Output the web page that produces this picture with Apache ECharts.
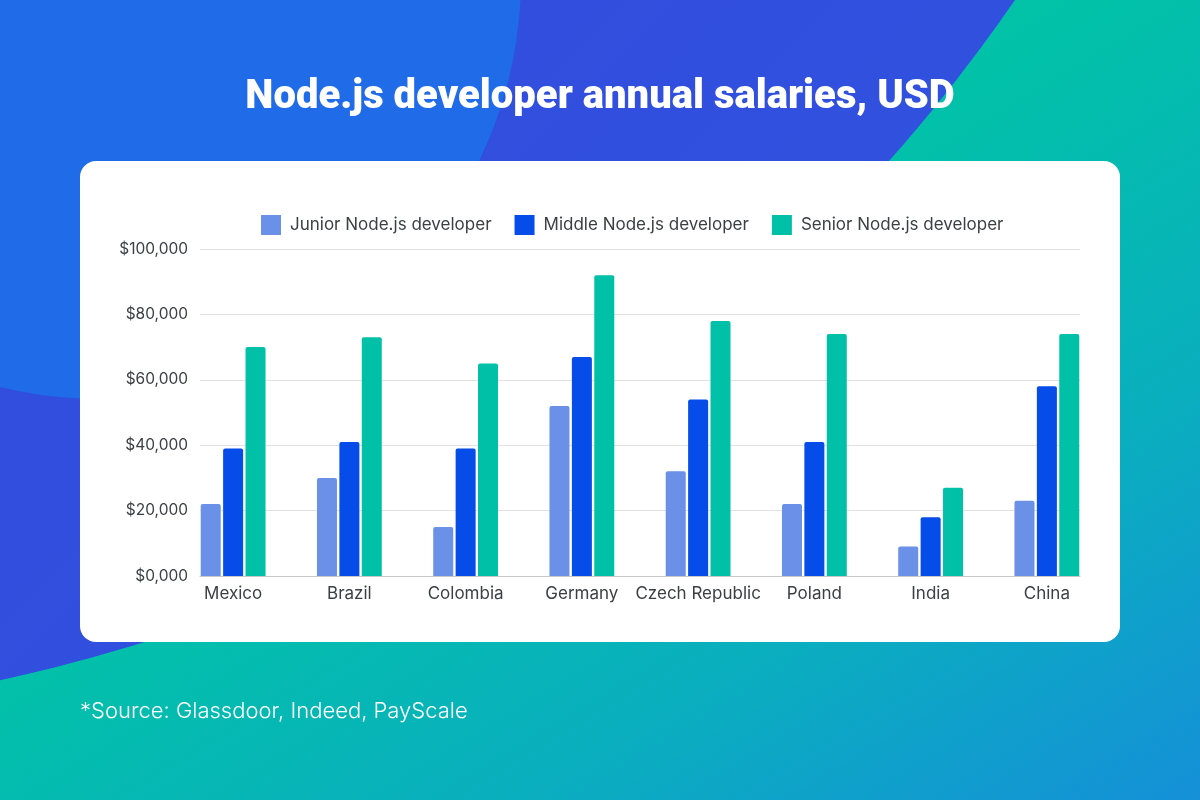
<!DOCTYPE html>
<html>
<head>
<meta charset="utf-8">
<script src="https://cdn.jsdelivr.net/npm/echarts@6/dist/echarts.min.js"></script>
<style>
  html, body { margin: 0; padding: 0; width: 1200px; height: 800px; overflow: hidden; }
  #chart { width: 1200px; height: 800px; }
</style>
</head>
<body>
<div id="chart"></div>
<script>
const categories = ['Mexico', 'Brazil', 'Colombia', 'Germany', 'Czech Republic', 'Poland', 'India', 'China'];
const juniorValues = [22000, 30000, 15000, 52000, 32000, 22000, 9000, 23000];
const middleValues = [39000, 41000, 39000, 67000, 54000, 41000, 18000, 58000];
const seniorValues = [70000, 73000, 65000, 92000, 78000, 74000, 27000, 74000];
const seriesNames = ['Junior Node.js developer', 'Middle Node.js developer', 'Senior Node.js developer'];
const titleText = 'Node.js developer annual salaries, USD';
const sourceText = '*Source: Glassdoor, Indeed, PayScale';
const yMin = 0, yMax = 100000, yStep = 20000;

const colors = ['#6a90e8', '#064ce8', '#00c0a7'];
const labelColor = '#3c4043';
const labelFont = 'Inter';

function fmtMoney(v) {
  let s = String(Math.round(v)).padStart(4, '0');
  s = s.replace(/\B(?=(\d{3})+(?!\d))/g, ',');
  return '$' + s;
}

const chart = echarts.init(document.getElementById('chart'), null, { renderer: 'canvas' });

const option = {
  animation: false,
  title: {
    text: titleText,
    left: 'center',
    top: 73,
    textStyle: { color: '#ffffff', fontSize: 40, fontWeight: 900, fontFamily: 'Roboto' }
  },
  graphic: [
    { type: 'rect', z: -10, silent: true, shape: { x: 0, y: 0, width: 1200, height: 800 },
      style: { fill: new echarts.graphic.LinearGradient(720, 0, 1200, 800, [
        { offset: 0, color: '#00c6a2' }, { offset: 0.25, color: '#02c0aa' },
        { offset: 0.63, color: '#0aaebf' }, { offset: 1, color: '#1590d8' }], true) } },
    { type: 'circle', z: -9, silent: true, shape: { cx: -347, cy: -935, r: 1652 },
      style: { fill: new echarts.graphic.LinearGradient(0, 0, 1, 1, [
        { offset: 0, color: '#3b36d6' }, { offset: 1, color: '#2f55e0' }]) } },
    { type: 'circle', z: -8, silent: true, shape: { cx: 100, cy: -22, r: 421 },
      style: { fill: '#1f6be8' } },
    { type: 'rect', z: -7, silent: true, shape: { x: 80, y: 161, width: 1040, height: 481, r: 16 },
      style: { fill: '#ffffff' } },
    { type: 'text', z: 5, silent: true, left: 80, top: 700,
      style: { text: sourceText, fill: '#ffffff', fontSize: 22, fontWeight: 300, fontFamily: 'Inter' } }
  ],
  legend: {
    data: seriesNames,
    left: 261,
    top: 215,
    padding: 0,
    icon: 'rect',
    itemWidth: 20,
    itemHeight: 20,
    itemGap: 23,
    textStyle: { color: labelColor, fontSize: 17, fontFamily: labelFont, padding: [0, 0, 0, 4] }
  },
  grid: [
    { left: 200, right: 120, top: 249, bottom: 224 },
    { left: 175, right: 95, top: 249, bottom: 224 }
  ],
  xAxis: [
    { type: 'value', gridIndex: 0, min: 0, max: 1,
      axisLine: { show: true, lineStyle: { color: '#c8c8c8', width: 1 } },
      axisTick: { show: false }, axisLabel: { show: false }, splitLine: { show: false } },
    { type: 'category', gridIndex: 1, data: categories,
      axisLine: { show: false }, axisTick: { show: false }, splitLine: { show: false },
      axisLabel: { color: labelColor, fontSize: 17, fontFamily: labelFont, margin: 9, interval: 0 } }
  ],
  yAxis: [
    { type: 'value', gridIndex: 0, min: yMin, max: yMax, interval: yStep,
      axisLine: { show: false }, axisTick: { show: false },
      axisLabel: { color: labelColor, fontSize: 15.5, fontFamily: labelFont, margin: 12, formatter: fmtMoney },
      splitLine: { show: true, lineStyle: { color: '#e2e2e2', width: 1 } } },
    { type: 'value', gridIndex: 1, min: yMin, max: yMax, interval: yStep, show: false,
      splitLine: { show: false } }
  ],
  series: [
    { name: seriesNames[0], type: 'bar', xAxisIndex: 1, yAxisIndex: 1, data: juniorValues,
      barWidth: 20, barGap: '12%', itemStyle: { color: colors[0], borderRadius: [2, 2, 0, 0] } },
    { name: seriesNames[1], type: 'bar', xAxisIndex: 1, yAxisIndex: 1, data: middleValues,
      barWidth: 20, barGap: '12%', itemStyle: { color: colors[1], borderRadius: [2, 2, 0, 0] } },
    { name: seriesNames[2], type: 'bar', xAxisIndex: 1, yAxisIndex: 1, data: seniorValues,
      barWidth: 20, barGap: '12%', itemStyle: { color: colors[2], borderRadius: [2, 2, 0, 0] } }
  ]
};

chart.setOption(option);
</script>
</body>
</html>
